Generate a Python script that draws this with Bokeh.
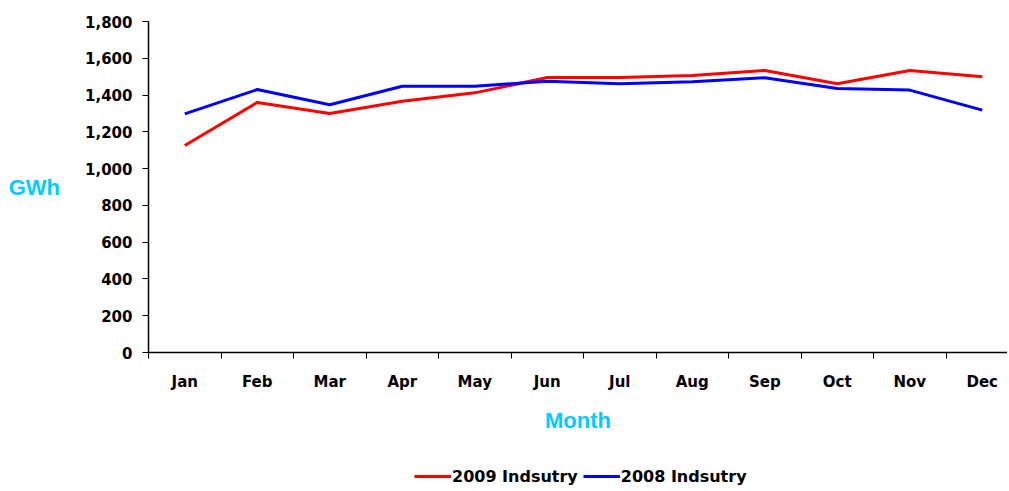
from bokeh.plotting import figure
from bokeh.layouts import column
from bokeh.models import FixedTicker, NumeralTickFormatter, Range1d, Legend, LegendItem
from bokeh.embed import file_html
from bokeh.resources import INLINE

months = ["Jan", "Feb", "Mar", "Apr", "May", "Jun", "Jul", "Aug", "Sep", "Oct", "Nov", "Dec"]
industry_2009 = [1126, 1360, 1300, 1366, 1412, 1495, 1495, 1507, 1534, 1461, 1534, 1499]
industry_2008 = [1298, 1430, 1347, 1448, 1448, 1475, 1461, 1472, 1494, 1436, 1427, 1318]
y_ticks = [0, 200, 400, 600, 800, 1000, 1200, 1400, 1600, 1800]
series_names = ["2009 Indsutry", "2008 Indsutry"]

centers = [i + 0.5 for i in range(len(months))]
bounds = [float(i) for i in range(len(months) + 1)]

p = figure(width=1007, height=440, x_range=Range1d(0, 11.848), y_range=Range1d(0, 1800),
           output_backend="svg", toolbar_location=None,
           min_border_left=148, min_border_right=0, min_border_top=21, min_border_bottom=88)
p.outline_line_color = None
p.background_fill_color = "white"
p.border_fill_color = "white"

p.xgrid.visible = False
p.ygrid.ticker = FixedTicker(ticks=[1800])
p.ygrid.grid_line_color = "#9a9a9a"
p.ygrid.grid_line_width = 2

tick_font = "DejaVu Sans"

yax = p.yaxis[0]
yax.ticker = FixedTicker(ticks=y_ticks)
yax.formatter = NumeralTickFormatter(format="0,0")
yax.major_tick_out = 6
yax.major_tick_in = 0
yax.minor_tick_out = 0
yax.minor_tick_in = 0
yax.axis_line_color = "black"
yax.axis_line_width = 1.5
yax.major_tick_line_color = "black"
yax.major_label_text_font = tick_font
yax.major_label_text_font_style = "bold"
yax.major_label_text_font_size = "15px"
yax.major_label_text_color = "black"
yax.major_label_standoff = 10
yax.axis_label = "GWh"
yax.axis_label_orientation = "horizontal"
yax.axis_label_text_font = "Liberation Sans"
yax.axis_label_text_font_style = "bold"
yax.axis_label_text_font_size = "22px"
yax.axis_label_text_color = "#00CCFF"
yax.axis_label_standoff = 22

xax = p.xaxis[0]
xax.ticker = FixedTicker(ticks=centers, minor_ticks=bounds)
xax.major_label_overrides = {c: m for c, m in zip(centers, months)}
xax.major_tick_out = 0
xax.major_tick_in = 0
xax.minor_tick_out = 6
xax.minor_tick_in = 0
xax.minor_tick_line_color = "black"
xax.axis_line_color = "black"
xax.axis_line_width = 1.5
xax.major_label_text_font = tick_font
xax.major_label_text_font_style = "bold"
xax.major_label_text_font_size = "15px"
xax.major_label_text_color = "black"
xax.major_label_standoff = 14
xax.axis_label = "Month"
xax.axis_label_text_font = "Liberation Sans"
xax.axis_label_text_font_style = "bold"
xax.axis_label_text_font_size = "22px"
xax.axis_label_text_color = "#00CCFF"
xax.axis_label_standoff = 14

p.line(centers, industry_2009, line_color="#FF0000", line_width=3)
p.line(centers, industry_2008, line_color="#0000FF", line_width=3)

# Legend strip below the chart (same series, drawn outside its visible range)
lp = figure(width=1007, height=48, x_range=Range1d(0, 1), y_range=Range1d(0, 1),
            x_axis_type=None, y_axis_type=None, output_backend="svg", toolbar_location=None,
            min_border_left=0, min_border_right=0, min_border_top=0, min_border_bottom=0)
lp.outline_line_color = None
lp.xgrid.visible = False
lp.ygrid.visible = False
l1 = lp.line(centers, industry_2009, line_color="#FF0000", line_width=3)
l2 = lp.line(centers, industry_2008, line_color="#0000FF", line_width=3)

legend = Legend(items=[LegendItem(label=series_names[0], renderers=[l1]),
                       LegendItem(label=series_names[1], renderers=[l2])],
                orientation="horizontal", location=(266, 2),
                border_line_color=None, background_fill_alpha=0,
                glyph_width=37, glyph_height=20, label_standoff=1, spacing=5,
                padding=0, margin=0,
                label_text_font=tick_font, label_text_font_style="bold",
                label_text_font_size="16px", label_text_color="black")
lp.add_layout(legend, "center")

open("out.html", "w").write(file_html(column(p, lp, spacing=0), INLINE))
